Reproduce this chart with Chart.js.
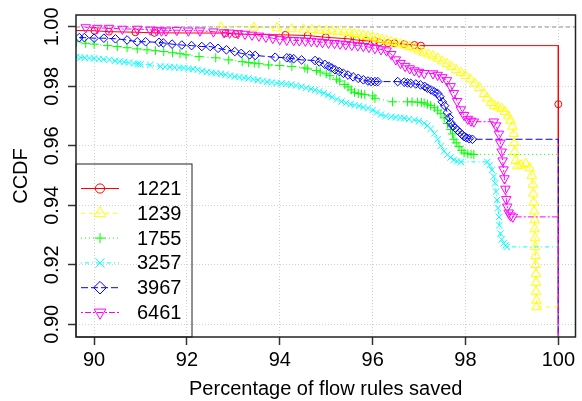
<!DOCTYPE html>
<html>
<head>
<meta charset="utf-8">
<script src="https://cdn.jsdelivr.net/npm/chart.js@4/dist/chart.umd.min.js"></script>
<style>
  html, body { margin: 0; background: #fff; }
</style>
</head>
<body>
<canvas id="ccdf" width="582" height="401"></canvas>
<script>
// series names and axis ticks
var names = ["1221", "1239", "1755", "3257", "3967", "6461"];
var xTicks = [90, 92, 94, 96, 98, 100];
var yTicks = [0.90, 0.92, 0.94, 0.96, 0.98, 1.00];
var fullSaving = 100;

var x1221 = [89.5, 90.01, 90.32, 90.89, 91.30, 92.83, 93.05, 94.12, 94.60, 94.99, 95.47, 95.65, 95.86, 96.04, 96.15, 96.33, 96.47, 96.68, 96.90, 97.04];
var y1221 = [0.9988, 0.9987, 0.9984, 0.9982, 0.9980, 0.9979, 0.9976, 0.9973, 0.9971, 0.9965, 0.9960, 0.9956, 0.9953, 0.9953, 0.9948, 0.9945, 0.9945, 0.9942, 0.9939, 0.9937];
var drop1221 = [0.974];

var x1239 = [92.73, 93.44, 93.94, 94.26, 94.51, 94.69, 94.85, 95.00, 95.12, 95.25, 95.38, 95.50, 95.60, 95.70, 95.80, 95.90, 96.00, 96.10, 96.20, 96.30, 96.40, 96.50, 96.60, 96.70, 96.80, 96.90, 97.00, 97.10, 97.20, 97.30, 97.40, 97.50, 97.60, 97.70, 97.80, 97.90, 98.00, 98.10, 98.20, 98.30, 98.40, 98.47, 98.55, 98.62, 98.70, 98.78, 98.85, 98.92, 98.97, 99.01, 99.04, 99.05, 99.06, 99.08, 99.12, 99.20, 99.30, 99.38, 99.43, 99.45, 99.46, 99.47, 99.48, 99.49, 99.49, 99.50, 99.50, 99.51, 99.51, 99.52, 99.52, 99.52, 99.53, 99.53];
var y1239 = [0.9999, 0.9998, 0.9996, 0.9993, 0.9992, 0.9990, 0.9988, 0.9987, 0.9986, 0.9984, 0.9982, 0.9980, 0.9977, 0.9974, 0.9971, 0.9968, 0.9965, 0.9961, 0.9958, 0.9954, 0.9950, 0.9946, 0.9942, 0.9938, 0.9933, 0.9928, 0.9921, 0.9914, 0.9908, 0.9902, 0.9894, 0.9885, 0.9876, 0.9866, 0.9856, 0.9846, 0.9836, 0.9824, 0.9810, 0.9795, 0.9775, 0.9760, 0.9745, 0.9735, 0.9730, 0.9725, 0.9715, 0.9700, 0.9685, 0.9665, 0.9640, 0.9610, 0.9580, 0.9550, 0.9532, 0.9535, 0.9540, 0.9525, 0.9500, 0.9470, 0.9440, 0.9410, 0.9380, 0.9350, 0.9320, 0.9290, 0.9260, 0.9230, 0.9200, 0.9170, 0.9140, 0.9110, 0.9080, 0.9058];

var x1755 = [89.62, 89.82, 90.00, 90.29, 90.50, 90.71, 90.93, 91.14, 91.32, 91.50, 91.69, 91.85, 91.98, 92.26, 92.62, 92.90, 93.19, 93.33, 93.45, 93.55, 93.76, 94.00, 94.26, 94.54, 94.60, 94.79, 94.87, 95.00, 95.08, 95.22, 95.29, 95.40, 95.47, 95.54, 95.61, 95.69, 95.76, 95.83, 96.00, 96.05, 96.43, 96.75, 96.85, 96.97, 97.05, 97.11, 97.18, 97.25, 97.33, 97.40, 97.47, 97.54, 97.61, 97.68, 97.72, 97.75, 97.80, 97.86, 97.92, 97.97, 98.05, 98.12, 98.18];
var y1755 = [0.9950, 0.9945, 0.9942, 0.9937, 0.9934, 0.9930, 0.9926, 0.9923, 0.9920, 0.9917, 0.9913, 0.9910, 0.9906, 0.9900, 0.9896, 0.9889, 0.9883, 0.9880, 0.9878, 0.9876, 0.9872, 0.9870, 0.9867, 0.9862, 0.9859, 0.9853, 0.9848, 0.9842, 0.9836, 0.9824, 0.9818, 0.9806, 0.9798, 0.9788, 0.9780, 0.9776, 0.9774, 0.9772, 0.9768, 0.9760, 0.9748, 0.9748, 0.9748, 0.9747, 0.9746, 0.9744, 0.9740, 0.9735, 0.9728, 0.9720, 0.9708, 0.9694, 0.9675, 0.9655, 0.9640, 0.9622, 0.9610, 0.9598, 0.9585, 0.9576, 0.9573, 0.9572, 0.9571];

var x3257 = [89.62, 89.70, 89.80, 89.90, 90.00, 90.10, 90.20, 90.33, 90.45, 90.55, 90.65, 90.75, 90.86, 90.95, 91.00, 91.21, 91.43, 91.53, 91.63, 91.73, 91.83, 91.93, 92.03, 92.13, 92.23, 92.33, 92.43, 92.53, 92.63, 92.73, 92.83, 92.93, 93.03, 93.13, 93.23, 93.33, 93.43, 93.53, 93.63, 93.73, 93.83, 93.93, 94.04, 94.14, 94.25, 94.35, 94.47, 94.57, 94.67, 94.76, 94.85, 94.95, 95.04, 95.13, 95.23, 95.33, 95.43, 95.52, 95.61, 95.71, 95.80, 95.90, 96.00, 96.09, 96.18, 96.28, 96.40, 96.50, 96.60, 96.68, 96.78, 96.90, 97.00, 97.11, 97.18, 97.25, 97.33, 97.40, 97.47, 97.54, 97.61, 97.68, 97.75, 97.82, 97.90, 98.47, 98.52, 98.57, 98.61, 98.64, 98.66, 98.68, 98.70, 98.72, 98.73, 98.75, 98.78, 98.82, 98.86, 98.89];
var y3257 = [0.9899, 0.9897, 0.9896, 0.9895, 0.9894, 0.9892, 0.9891, 0.9889, 0.9886, 0.9884, 0.9882, 0.9880, 0.9877, 0.9875, 0.9874, 0.9872, 0.9867, 0.9866, 0.9865, 0.9864, 0.9863, 0.9862, 0.9860, 0.9858, 0.9856, 0.9852, 0.9848, 0.9846, 0.9844, 0.9842, 0.9839, 0.9836, 0.9833, 0.9831, 0.9829, 0.9827, 0.9824, 0.9821, 0.9818, 0.9815, 0.9813, 0.9811, 0.9810, 0.9808, 0.9806, 0.9803, 0.9799, 0.9795, 0.9791, 0.9788, 0.9783, 0.9777, 0.9771, 0.9764, 0.9756, 0.9749, 0.9744, 0.9740, 0.9737, 0.9734, 0.9730, 0.9726, 0.9720, 0.9712, 0.9705, 0.9700, 0.9698, 0.9696, 0.9694, 0.9693, 0.9690, 0.9687, 0.9683, 0.9676, 0.9668, 0.9657, 0.9642, 0.9622, 0.9600, 0.9582, 0.9570, 0.9561, 0.9553, 0.9548, 0.9546, 0.9546, 0.9535, 0.9519, 0.9497, 0.9474, 0.9446, 0.9418, 0.9390, 0.9361, 0.9333, 0.9305, 0.9285, 0.9272, 0.9265, 0.9260];

var x3967 = [89.68, 89.79, 90.00, 90.21, 90.46, 90.71, 90.93, 91.11, 91.40, 91.49, 91.68, 91.89, 92.10, 92.32, 92.50, 92.67, 92.85, 93.03, 93.17, 93.35, 93.47, 93.90, 94.15, 94.22, 94.30, 94.47, 94.76, 94.85, 94.97, 95.05, 95.12, 95.19, 95.28, 95.37, 95.47, 95.58, 95.69, 95.80, 95.90, 95.97, 96.05, 96.11, 96.54, 96.68, 96.75, 96.82, 96.93, 97.03, 97.12, 97.18, 97.26, 97.33, 97.40, 97.45, 97.50, 97.55, 97.61, 97.65, 97.68, 97.72, 97.78, 97.83, 97.88, 97.93, 97.97, 98.02, 98.08, 98.15];
var y3967 = [0.9964, 0.9964, 0.9962, 0.9962, 0.9960, 0.9956, 0.9950, 0.9950, 0.9948, 0.9946, 0.9942, 0.9939, 0.9937, 0.9934, 0.9934, 0.9928, 0.9923, 0.9917, 0.9911, 0.9906, 0.9904, 0.9898, 0.9896, 0.9895, 0.9893, 0.9889, 0.9887, 0.9882, 0.9874, 0.9868, 0.9862, 0.9856, 0.9850, 0.9844, 0.9838, 0.9832, 0.9827, 0.9822, 0.9818, 0.9816, 0.9816, 0.9816, 0.9816, 0.9814, 0.9812, 0.9810, 0.9808, 0.9805, 0.9800, 0.9794, 0.9788, 0.9782, 0.9776, 0.9765, 0.9748, 0.9735, 0.9712, 0.9695, 0.9678, 0.9668, 0.9660, 0.9652, 0.9645, 0.9637, 0.9631, 0.9627, 0.9624, 0.9622];

var x6461 = [89.82, 90.07, 90.32, 90.61, 90.93, 91.21, 91.35, 91.45, 91.55, 91.78, 92.03, 92.28, 92.57, 92.80, 92.92, 93.10, 93.25, 93.40, 93.55, 93.70, 93.85, 94.00, 94.15, 94.30, 94.42, 94.55, 94.68, 94.80, 94.92, 95.05, 95.18, 95.30, 95.42, 95.55, 95.68, 95.80, 95.92, 96.05, 96.18, 96.30, 96.40, 96.50, 96.60, 96.70, 96.80, 96.90, 97.00, 97.11, 97.30, 97.40, 97.50, 97.60, 97.68, 97.75, 97.82, 97.90, 97.97, 98.05, 98.12, 98.18, 98.61, 98.66, 98.72, 98.75, 98.78, 98.80, 98.82, 98.84, 98.86, 98.88, 98.90, 98.93, 98.97, 99.02];
var y6461 = [0.9998, 0.9996, 0.9996, 0.9993, 0.9993, 0.9990, 0.9988, 0.9987, 0.9987, 0.9989, 0.9987, 0.9987, 0.9984, 0.9981, 0.9980, 0.9978, 0.9976, 0.9973, 0.9970, 0.9966, 0.9962, 0.9958, 0.9956, 0.9955, 0.9954, 0.9953, 0.9952, 0.9950, 0.9948, 0.9946, 0.9945, 0.9943, 0.9941, 0.9939, 0.9937, 0.9935, 0.9932, 0.9928, 0.9924, 0.9920, 0.9908, 0.9890, 0.9878, 0.9868, 0.9860, 0.9853, 0.9848, 0.9844, 0.9843, 0.9838, 0.9830, 0.9820, 0.9800, 0.9777, 0.9750, 0.9722, 0.9703, 0.9690, 0.9684, 0.9681, 0.9681, 0.9668, 0.9640, 0.9610, 0.9580, 0.9550, 0.9520, 0.9490, 0.9455, 0.9420, 0.9395, 0.9375, 0.9365, 0.9361];

var xs = [x1221, x1239, x1755, x3257, x3967, x6461];
var ys = [y1221, y1239, y1755, y3257, y3967, y6461];
var drops = [drop1221, [], [], [], [], []];

// rainbow(6) colours, R line types, pch-like markers
var colors = ["#ff0000", "#ffff00", "#00ff00", "#00ffff", "#0000ff", "#ff00ff"];
var dashes = [[], [4, 4], [1, 3], [1, 3, 4, 3], [7, 3], [2, 2, 6, 2]];
var shapes = ["circle", "triangle", "cross", "crossRot", "rectRot", "triangle"];
var rotations = [0, 0, 0, 0, 0, 180];
var plotRadius = [3.5, 5.5, 4.5, 4.5, 4.3, 5.5];
var keyRadius = [4.6, 6.8, 5, 6.5, 6.3, 6.8];

var fontFamily = "'Liberation Sans', Arial, Helvetica, sans-serif";
Chart.defaults.font.family = fontFamily;
Chart.defaults.font.size = 20;
Chart.defaults.color = "#000";

var datasets = names.map(function (name, i) {
    var pts = [];
    var radius = [];
    xs[i].forEach(function (x, j) {
        pts.push({ x: x, y: ys[i][j] });
        radius.push(plotRadius[i]);
    });
    // after the last value the curve runs flat to 100% and drops
    var level = ys[i][ys[i].length - 1];
    pts.push({ x: fullSaving, y: level });
    radius.push(0);
    drops[i].forEach(function (y) {
        pts.push({ x: fullSaving, y: y });
        radius.push(plotRadius[i]);
    });
    pts.push({ x: fullSaving, y: 0 });
    radius.push(0);
    return {
        label: name,
        data: pts,
        borderColor: colors[i],
        borderWidth: 1,
        borderDash: dashes[i],
        pointStyle: shapes[i],
        pointRotation: rotations[i],
        pointRadius: radius,
        pointBorderColor: colors[i],
        pointBackgroundColor: "rgba(0,0,0,0)",
        pointBorderWidth: 1,
        tension: 0,
        order: names.length - i,
    };
});

var ccdfDecor = {
    id: "ccdfDecor",
    beforeDatasetsDraw: function (chart) {
        var ctx = chart.ctx, a = chart.chartArea;
        var y = chart.scales.y.getPixelForValue(1);
        ctx.save();
        ctx.strokeStyle = "#b4b4b4";
        ctx.lineWidth = 1.5;
        ctx.setLineDash([4, 3]);
        ctx.beginPath();
        ctx.moveTo(a.left, y);
        ctx.lineTo(a.right, y);
        ctx.stroke();
        ctx.restore();
    },
    afterDraw: function (chart) {
        var ctx = chart.ctx, a = chart.chartArea;
        var yScale = chart.scales.y;
        ctx.save();
        // box round the plot
        ctx.strokeStyle = "#222";
        ctx.lineWidth = 1.5;
        ctx.setLineDash([]);
        ctx.strokeRect(a.left, a.top, a.right - a.left, a.bottom - a.top);

        ctx.fillStyle = "#000";
        ctx.font = "20px " + fontFamily;
        ctx.textAlign = "center";
        ctx.textBaseline = "alphabetic";
        // y tick labels, parallel to the axis
        yTicks.forEach(function (v) {
            ctx.save();
            ctx.translate(58, yScale.getPixelForValue(v));
            ctx.rotate(-Math.PI / 2);
            ctx.fillText(v.toFixed(2), 0, 0);
            ctx.restore();
        });
        // axis titles
        ctx.fillText("Percentage of flow rules saved", (a.left + a.right) / 2, 395);
        ctx.save();
        ctx.translate(27, (a.top + a.bottom) / 2);
        ctx.rotate(-Math.PI / 2);
        ctx.fillText("CCDF", 0, 0);
        ctx.restore();

        // legend
        var box = { left: a.left, top: 164, right: 192, bottom: a.bottom };
        ctx.strokeStyle = "#222";
        ctx.lineWidth = 1;
        ctx.strokeRect(box.left, box.top, box.right - box.left, box.bottom - box.top);
        ctx.textAlign = "left";
        ctx.textBaseline = "middle";
        names.forEach(function (name, i) {
            var cy = 188.5 + i * 24.8;
            ctx.strokeStyle = colors[i];
            ctx.lineWidth = 1;
            ctx.setLineDash(dashes[i]);
            ctx.beginPath();
            ctx.moveTo(81, cy);
            ctx.lineTo(119, cy);
            ctx.stroke();
            ctx.setLineDash([]);
            ctx.fillStyle = "rgba(0,0,0,0)";
            Chart.helpers.drawPoint(ctx, {
                pointStyle: shapes[i],
                radius: keyRadius[i],
                rotation: rotations[i],
                borderWidth: 1
            }, 100, cy);
            ctx.fillStyle = "#000";
            ctx.fillText(name, 137, cy + 1);
        });
        ctx.restore();
    }
};

new Chart(document.getElementById("ccdf"), {
    type: "line",
    data: { datasets: datasets },
    options: {
        responsive: false,
        animation: false,
        events: [],
        devicePixelRatio: 1,
        layout: { padding: { top: 15, right: 3, left: 0, bottom: 0 } },
        plugins: { legend: { display: false }, tooltip: { enabled: false } },
        scales: {
            x: {
                type: "linear",
                min: 89.61,
                max: 100.37,
                afterFit: function (s) { s.height = 64; },
                afterBuildTicks: function (s) {
                    s.ticks = xTicks.map(function (v) { return { value: v }; });
                },
                ticks: { color: "#000", padding: 3, font: { size: 20 } },
                grid: {
                    color: "#d0d0d0",
                    lineWidth: 1,
                    tickColor: "#333",
                    tickLength: 8,
                    tickWidth: 1.5,
                    tickBorderDash: []
                },
                border: { display: false, dash: [1, 2] }
            },
            y: {
                type: "linear",
                min: 0.8957,
                max: 1.004,
                afterFit: function (s) { s.width = 76; },
                afterBuildTicks: function (s) {
                    s.ticks = yTicks.map(function (v) { return { value: v }; });
                },
                ticks: { display: false },
                grid: {
                    color: "#d0d0d0",
                    lineWidth: 1,
                    tickColor: "#333",
                    tickLength: 8,
                    tickWidth: 1.5,
                    tickBorderDash: []
                },
                border: { display: false, dash: [1, 2] }
            }
        }
    },
    plugins: [ccdfDecor]
});
</script>
</body>
</html>
